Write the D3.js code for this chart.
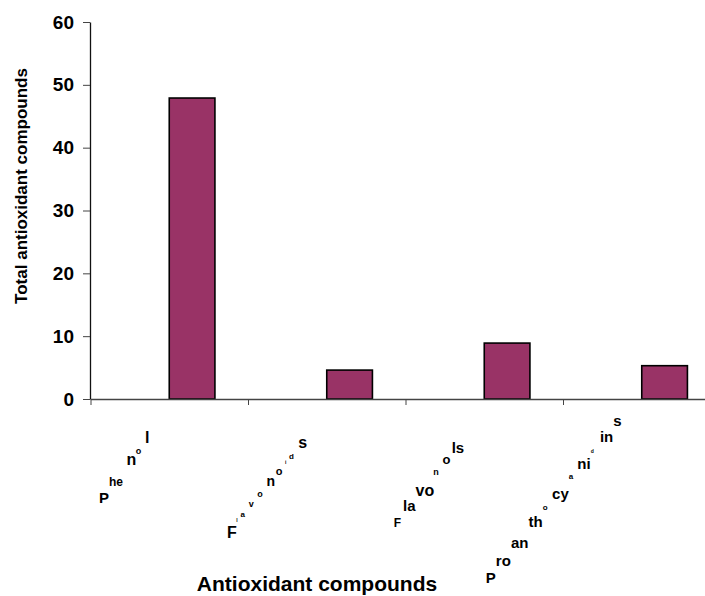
<!DOCTYPE html>
<html>
<head>
<meta charset="utf-8">
<script src="https://cdn.jsdelivr.net/npm/d3@7"></script>
<style>
  body { margin: 0; background: #fff; }
  svg { display: block; font-family: "Liberation Sans", Arial, sans-serif; font-weight: bold; }
</style>
</head>
<body>
<div id="chart"></div>
<script>
// data
const categories = ["Phenol", "Flavonoids", "Flavonols", "Proanthocyanidins"];
const values = [47.9, 4.6, 8.9, 5.3];
const yTicks = [0, 10, 20, 30, 40, 50, 60];
const yTitle = "Total antioxidant compounds";
const xTitle = "Antioxidant compounds";

// the category labels are drawn letter-group by letter-group up a slope,
// each group upright and at its own size (chunk length, font px)
const labelPieces = {
    "Phenol": [[1, 15], [2, 12], [1, 16], [1, 9], [1, 16]],
    "Flavonoids": [[1, 16], [1, 5], [1, 8], [1, 9], [1, 9], [1, 14], [1, 11], [1, 5], [1, 8], [1, 16]],
    "Flavonols": [[1, 12], [2, 15], [2, 16], [1, 9], [1, 13], [2, 15]],
    "Proanthocyanidins": [[1, 15], [2, 15], [2, 15], [2, 15], [1, 8], [2, 15], [1, 8], [2, 15], [1, 5], [2, 15], [1, 15]]
};

const W = 705, H = 596;
const margin = { top: 22, left: 90, bottom: 197 };
const plotBottom = H - margin.bottom;

const svg = d3.select("#chart").append("svg")
    .attr("width", W)
    .attr("height", H);

// y: 0..60, x: 4 bands, the last one runs past the right edge
const y = d3.scaleLinear().domain([0, 60]).range([plotBottom, margin.top]);
const x = d3.scaleBand().domain(categories).range([90.5, 720.5]);
const xEdge = d3.scaleLinear().domain([0, categories.length]).range(x.range());
const bw = x.bandwidth();

// bars sit in the right half of each band
svg.append("g")
    .selectAll("rect")
    .data(values)
    .join("rect")
    .attr("x", (d, i) => x(categories[i]) + bw * 0.5)
    .attr("y", d => y(d))
    .attr("width", bw * 0.29)
    .attr("height", d => y(0) - y(d))
    .attr("fill", "#993366")
    .attr("stroke", "#000")
    .attr("stroke-width", 1.6);

// Y axis
const yAxis = svg.append("g")
    .attr("transform", `translate(${margin.left},0)`)
    .call(d3.axisLeft(y).tickValues(yTicks).tickSize(7).tickSizeOuter(0).tickPadding(9));
yAxis.select(".domain").attr("stroke", "#111").attr("stroke-width", 1.3);
yAxis.selectAll(".tick line").attr("stroke", "#444");
yAxis.selectAll(".tick text")
    .attr("font-size", 19)
    .attr("font-family", "Liberation Sans, Arial, sans-serif")
    .attr("font-weight", "bold")
    .attr("fill", "#000");

// X axis: ticks on the band edges, no labels
const xAxis = svg.append("g")
    .attr("transform", `translate(0,${plotBottom})`)
    .call(d3.axisBottom(xEdge).tickValues(d3.range(categories.length + 1))
        .tickFormat("").tickSize(6).tickSizeOuter(0));
xAxis.select(".domain").attr("stroke", "#444").attr("stroke-width", 1.3);
xAxis.selectAll(".tick line").attr("stroke", "#444");

// measure advances along the slope with a hidden text node
const baseSize = 23.5;
const probe = svg.append("text").attr("font-size", baseSize).attr("visibility", "hidden");
function advance(s) {
    probe.text(s);
    return s.length ? probe.node().getComputedTextLength() : 0;
}

const angle = 50 * Math.PI / 180;
const dx = Math.cos(angle), dy = -Math.sin(angle);
const labels = svg.append("g");

categories.forEach(c => {
    const total = advance(c);
    const endX = x(c) + bw / 2 - 20;
    let endY = 440;
    // start point, pushed up if the label would run off the bottom
    let startY = endY - total * dy;
    if (startY > 580) endY -= startY - 580;
    const startX = endX - total * dx;
    startY = endY - total * dy;

    let pos = 0;
    labelPieces[c].forEach(([len, size], k) => {
        const piece = c.slice(pos, pos + len);
        const t = advance(c.slice(0, pos));
        labels.append("text")
            .attr("x", startX + t * dx)
            .attr("y", startY + t * dy + (k === 0 ? 3 : -2))
            .attr("font-size", size)
            .attr("fill", "#000")
            .text(piece);
        pos += len;
    });
});
probe.remove();

// axis titles
svg.append("text")
    .attr("transform", `translate(27,186) rotate(-90)`)
    .attr("text-anchor", "middle")
    .attr("font-size", 17)
    .attr("fill", "#000")
    .text(yTitle);

svg.append("text")
    .attr("x", 317)
    .attr("y", 591)
    .attr("text-anchor", "middle")
    .attr("font-size", 21)
    .attr("fill", "#000")
    .text(xTitle);
</script>
</body>
</html>
